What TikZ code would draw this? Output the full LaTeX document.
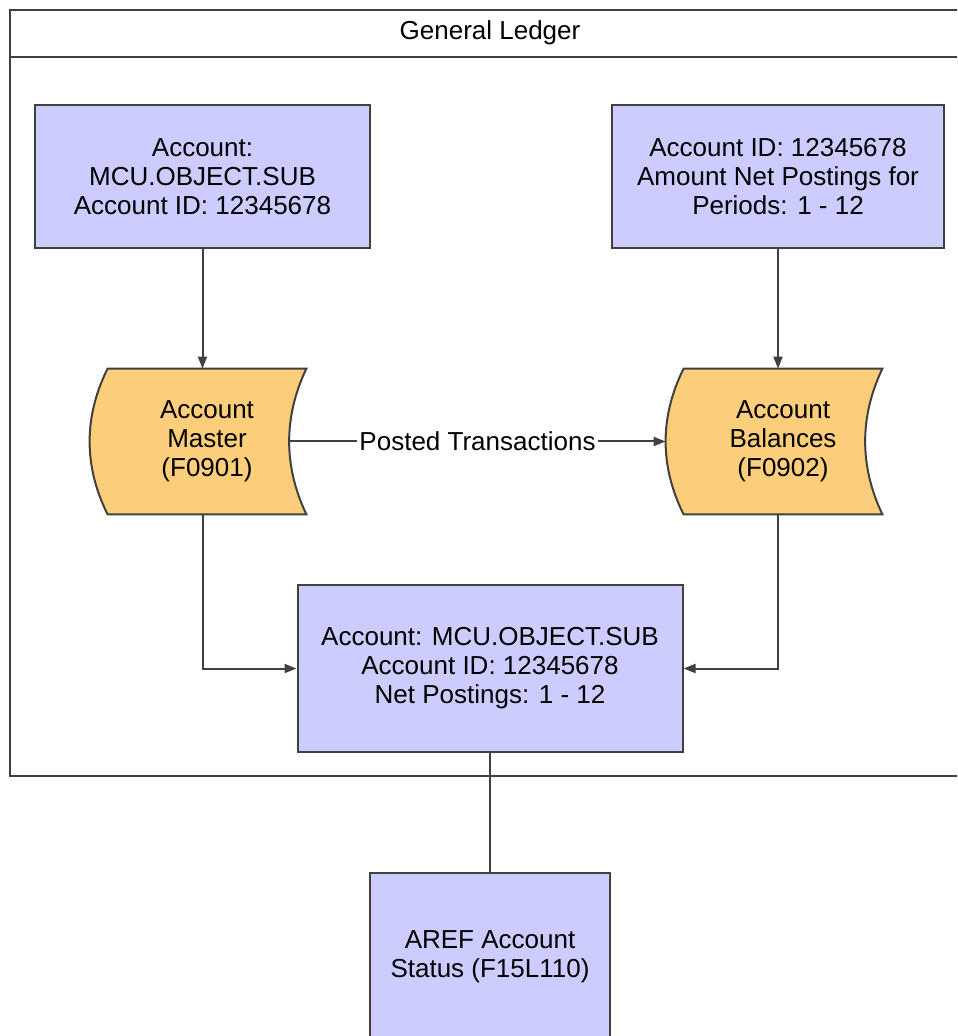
\documentclass[tikz,border=0pt]{standalone}
\usepackage{fontspec}
\setmainfont{Liberation Sans}
\usetikzlibrary{calc}
\usetikzlibrary{positioning}
\usetikzlibrary{backgrounds}
\usetikzlibrary{arrows.meta}
\definecolor{boxblue}{RGB}{204,204,255}
\definecolor{dataorange}{RGB}{252,206,122}
\definecolor{edgegray}{RGB}{64,64,64}

\begin{document}
\begin{tikzpicture}[x=0.5pt, y=-0.5pt,
		font=\fontsize{13}{14.5}\selectfont,
		b/.style = {rectangle, draw=edgegray, fill=boxblue, line width=1pt, align=center, inner sep=2pt},
		d/.style = {rectangle, align=center, minimum width=99pt, minimum height=72.5pt},
		r/.style = {-{Triangle[length=6pt, width=4.5pt]}, draw=edgegray, line width=1pt},
		l/.style = {draw=edgegray, line width=1pt}
		]

		\useasboundingbox (0,0) rectangle (957,1036);
		\clip (0,0) rectangle (957,1036);

		%Frame
		\draw[l] (10,10) rectangle (980,776);
		\draw[l] (10,57) -- (980,57);
		\node (gl) at (490,33) {General Ledger};

		%Nodes
		\node[b, minimum width=167.5pt, minimum height=71.5pt] (acc) at (202.5,176.5) {Account:\\MCU.OBJECT.SUB\\Account ID: 12345678};
		\node[b, minimum width=166pt, minimum height=71.5pt] (bal) at (778,176.5) {Account ID: 12345678\\Amount Net Postings for\\Periods: 1 - 12};
		\node[d] (am) at (207,441.5) {Account\\Master\\(F0901)};
		\node[d] (ab) at (783,441.5) {Account\\Balances\\(F0902)};
		\node[b, minimum width=192.5pt, minimum height=83.5pt] (net) at (490,668.5) {Account: MCU.OBJECT.SUB\\Account ID: 12345678\\Net Postings: 1 - 12};
		\node[b, minimum width=120pt, minimum height=84pt] (aref) at (490,957) {AREF Account\\Status (F15L110)};

		%Stored data
		\begin{scope}[on background layer]
			\foreach \n in {am, ab}
				\draw[l, fill=dataorange] (\n.north west)
					.. controls ($(\n.north west)!0.33!(\n.south west)+(-24,0)$) and ($(\n.north west)!0.67!(\n.south west)+(-24,0)$) .. (\n.south west)
					-- (\n.south east)
					.. controls ($(\n.south east)!0.33!(\n.north east)+(-23,0)$) and ($(\n.south east)!0.67!(\n.north east)+(-23,0)$) .. (\n.north east)
					-- cycle;
		\end{scope}
		\coordinate (amr) at ($(am.east)+(-17,0)$);
		\coordinate (abl) at ($(ab.west)+(-18,0)$);

		%Lines
		\draw[r] (acc.south) -- (acc.south |- am.north);
		\draw[r] (bal.south) -- (bal.south |- ab.north);
		\draw[r] (amr) -- node[fill=white, inner sep=1pt] {Posted Transactions} (abl);
		\draw[r] (acc.south |- am.south) |- (net.west);
		\draw[r] (bal.south |- ab.south) |- (net.east);
		\draw[l] (net.south) -- (aref.north);
	\end{tikzpicture}
\end{document}
